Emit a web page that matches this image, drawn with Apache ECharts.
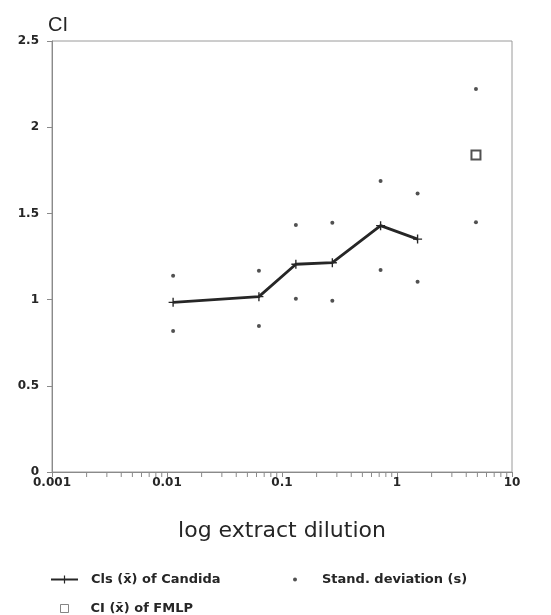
<!DOCTYPE html>
<html>
<head>
<meta charset="utf-8">
<script src="https://cdn.jsdelivr.net/npm/echarts@6/dist/echarts.min.js"></script>
<style>
html,body{margin:0;padding:0;background:#fff;}
#chart{width:551px;height:615px;}
</style>
</head>
<body>
<div id="chart"></div>
<script>
// ---- data (x positions as plotted against its log axis) ----
const dilutions = [0.0113, 0.063, 0.132, 0.274, 0.72, 1.51];
const candidaMeans = [0.984, 1.017, 1.205, 1.214, 1.429, 1.351];
const sdUpper = [1.139, 1.168, 1.433, 1.446, 1.688, 1.616];
const sdLower = [0.818, 0.847, 1.005, 0.994, 1.172, 1.104];
const fmlpDilution = [4.86];
const fmlpMean = [1.839];
const fmlpSdUpper = [2.221];
const fmlpSdLower = [1.448];
const decades = [0.001, 0.01, 0.1, 1];
const minorSteps = [2, 3, 4, 5, 6, 7, 8, 9];

const nameCandida = 'Cls (x\u0304) of Candida';
const nameSD = 'Stand. deviation (s)';
const nameFMLP = 'CI (x\u0304) of FMLP';

const font = '"Liberation Sans", Arial, sans-serif';
const wideFont = '"DejaVu Sans", "Liberation Sans", sans-serif';
const ink = '#262626';
const axisGray = '#8a8a8a';

const lineData = dilutions.map((d, i) => [d, candidaMeans[i]]);
const sdData = [];
dilutions.forEach((d, i) => { sdData.push([d, sdUpper[i]]); sdData.push([d, sdLower[i]]); });
fmlpDilution.forEach((d, i) => { sdData.push([d, fmlpSdUpper[i]]); sdData.push([d, fmlpSdLower[i]]); });
const fmlpData = fmlpDilution.map((d, i) => [d, fmlpMean[i]]);

const minorTicks = [];
decades.forEach(dec => minorSteps.forEach(m => minorTicks.push([+(dec * m).toPrecision(3), 0])));

const legendText = {fontFamily: wideFont, fontWeight: 'bold', fontSize: 13, color: ink};

const chart = echarts.init(document.getElementById('chart'), null, {renderer: 'canvas'});
chart.setOption({
  backgroundColor: '#fff',
  animation: false,
  textStyle: {fontFamily: font},
  grid: {left: 52, right: 39, top: 41, bottom: 143, show: true, borderColor: '#9a9a9a', borderWidth: 1, backgroundColor: 'transparent'},
  legend: [
    {
      data: [nameCandida], left: 50, top: 573, padding: 0, itemWidth: 27, itemHeight: 10,
      textStyle: Object.assign({padding: [0, 0, 0, 8]}, legendText),
      selectedMode: false
    },
    {
      data: [nameSD], left: 293, top: 573, padding: 0, itemWidth: 4, itemHeight: 4,
      textStyle: Object.assign({padding: [0, 0, 0, 20]}, legendText),
      selectedMode: false
    },
    {
      data: [{name: nameFMLP, itemStyle: {borderWidth: 1, borderColor: '#666'}}], left: 60, top: 602, padding: 0, itemWidth: 8, itemHeight: 8,
      textStyle: Object.assign({padding: [0, 0, 0, 17]}, legendText),
      selectedMode: false
    }
  ],
  xAxis: {
    type: 'log', logBase: 10, min: 0.001, max: 10,
    name: 'log extract dilution', nameLocation: 'middle', nameGap: 48,
    nameTextStyle: {fontFamily: wideFont, fontSize: 22, color: ink},
    axisLine: {show: true, lineStyle: {color: axisGray, width: 1}},
    axisTick: {show: true, length: 5, lineStyle: {color: axisGray}},
    axisLabel: {fontFamily: wideFont, fontWeight: 'bold', fontSize: 12, color: ink, margin: 5},
    splitLine: {show: false}, minorTick: {show: false}
  },
  yAxis: {
    type: 'value', min: 0, max: 2.5, interval: 0.5,
    name: 'CI', nameLocation: 'end', nameGap: 6,
    nameTextStyle: {fontFamily: font, fontSize: 20, color: ink, align: 'center', padding: [0, 0, 0, 12]},
    axisLine: {show: true, lineStyle: {color: axisGray, width: 1}},
    axisTick: {show: true, length: 5, lineStyle: {color: axisGray}},
    axisLabel: {fontFamily: wideFont, fontWeight: 'bold', fontSize: 12, color: ink, margin: 13},
    splitLine: {show: false}
  },
  series: [
    {
      name: nameCandida, type: 'line', data: lineData,
      lineStyle: {color: ink, width: 2.8},
      itemStyle: {color: ink},
      symbol: 'path://M3.4,0 h1.2 v3.4 h3.4 v1.2 h-3.4 v3.4 h-1.2 v-3.4 h-3.4 v-1.2 h3.4 z',
      symbolSize: 9, showSymbol: true, z: 3
    },
    {
      name: nameSD, type: 'scatter', data: sdData,
      symbol: 'circle', symbolSize: 4,
      itemStyle: {color: ink}, z: 4
    },
    {
      name: nameFMLP, type: 'scatter', data: fmlpData,
      symbol: 'rect', symbolSize: 9,
      itemStyle: {color: '#fff', borderColor: ink, borderWidth: 2}, z: 4
    },
    {
      name: 'minorTicks', type: 'custom', data: minorTicks, silent: true, clip: false,
      renderItem: function (params, api) {
        const p = api.coord([api.value(0), api.value(1)]);
        return {type: 'line', shape: {x1: p[0], y1: p[1], x2: p[0], y2: p[1] + 5}, style: {stroke: axisGray, lineWidth: 1}};
      },
      z: 2
    }
  ]
});
</script>
</body>
</html>
